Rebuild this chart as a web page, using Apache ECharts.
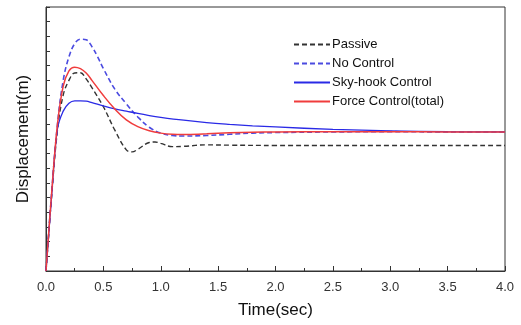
<!DOCTYPE html>
<html>
<head>
<meta charset="utf-8">
<script src="https://cdn.jsdelivr.net/npm/echarts@6/dist/echarts.min.js"></script>
<style>html,body{margin:0;padding:0;background:#fff;}#c{width:521px;height:325px;}</style>
</head>
<body>
<div id="c"></div>
<script>
var seriesNames = ['Passive', 'No Control', 'Sky-hook Control', 'Force Control(total)'];
var xTicks = [0, 0.5, 1.0, 1.5, 2.0, 2.5, 3.0, 3.5, 4.0];

var tPassive = [0, 0.05, 0.1, 0.15, 0.2, 0.25, 0.3, 0.35, 0.4, 0.5, 0.6, 0.7, 0.75, 0.8, 0.9, 0.95, 1.0, 1.1, 1.2, 1.4, 1.6, 2.0, 2.5, 3.0, 3.5, 4.0];
var passive  = [0, 2.6, 4.8, 6.0, 6.5, 6.75, 6.76, 6.55, 6.25, 5.6, 4.8, 4.13, 4.06, 4.15, 4.38, 4.4, 4.35, 4.24, 4.25, 4.3, 4.29, 4.28, 4.28, 4.28, 4.28, 4.28];

var tNoCtrl = [0, 0.05, 0.1, 0.15, 0.2, 0.25, 0.3, 0.35, 0.4, 0.45, 0.5, 0.6, 0.7, 0.8, 0.9, 1.0, 1.1, 1.2, 1.4, 1.6, 1.8, 2.0, 2.5, 3.0, 3.5, 4.0];
var noCtrl  = [0, 2.7, 5.0, 6.5, 7.3, 7.75, 7.9, 7.88, 7.65, 7.3, 6.9, 6.2, 5.7, 5.25, 4.9, 4.7, 4.62, 4.6, 4.62, 4.66, 4.7, 4.72, 4.74, 4.75, 4.74, 4.74];

var tSky = [0, 0.05, 0.1, 0.15, 0.2, 0.25, 0.3, 0.35, 0.4, 0.5, 0.6, 0.7, 0.8, 0.9, 1.0, 1.2, 1.4, 1.6, 1.8, 2.0, 2.5, 3.0, 3.5, 4.0];
var sky  = [0, 2.6, 4.85, 5.45, 5.72, 5.8, 5.8, 5.79, 5.74, 5.63, 5.53, 5.45, 5.37, 5.3, 5.24, 5.14, 5.06, 5.0, 4.95, 4.91, 4.83, 4.78, 4.75, 4.74];

var tForce = [0, 0.05, 0.1, 0.15, 0.2, 0.25, 0.3, 0.35, 0.4, 0.5, 0.6, 0.7, 0.8, 0.9, 1.0, 1.1, 1.2, 1.4, 1.6, 1.8, 2.0, 2.5, 3.0, 3.5, 4.0];
var force  = [0, 2.7, 5.0, 6.3, 6.82, 6.95, 6.9, 6.75, 6.5, 5.98, 5.52, 5.15, 4.92, 4.78, 4.7, 4.66, 4.65, 4.68, 4.71, 4.73, 4.74, 4.75, 4.75, 4.74, 4.74];

function pairs(t, v) { return t.map(function (x, i) { return [x, v[i]]; }); }

var FONT = '"Liberation Sans", Arial, sans-serif';
var chart = echarts.init(document.getElementById('c'), null, {renderer: 'canvas'});
chart.setOption({
  animation: false,
  backgroundColor: '#fff',
  grid: {left: 46, right: 16, top: 7, bottom: 54, show: true, borderColor: '#333', borderWidth: 1, backgroundColor: 'transparent'},
  legend: {
    orient: 'vertical', left: 288, top: 33, itemWidth: 36, itemHeight: 12, itemGap: 6,
    itemStyle: {opacity: 0},
    textStyle: {fontFamily: FONT, fontSize: 13, color: '#111', padding: [0, 0, 0, -3]},
    data: seriesNames
  },
  xAxis: {
    type: 'value', min: 0, max: 4, interval: 0.5,
    name: 'Time(sec)', nameLocation: 'middle', nameGap: 31,
    nameTextStyle: {fontFamily: FONT, fontSize: 17, color: '#111'},
    axisLine: {lineStyle: {color: '#333'}},
    axisTick: {inside: true, length: 5, lineStyle: {color: '#333'}},
    minorTick: {show: true, splitNumber: 2, length: 3, lineStyle: {color: '#333'}},
    splitLine: {show: false},
    axisLabel: {fontFamily: FONT, fontSize: 13, color: '#333', margin: 10,
      formatter: function (v) { return xTicks.indexOf(v) >= 0 ? v.toFixed(1) : ''; }}
  },
  yAxis: {
    type: 'value', min: 0, max: 9, interval: 1,
    name: 'Displacement(m)', nameLocation: 'middle', nameGap: 14,
    nameTextStyle: {fontFamily: FONT, fontSize: 17, color: '#111'},
    axisLine: {lineStyle: {color: '#333'}},
    axisTick: {inside: true, length: 4, lineStyle: {color: '#333'}},
    minorTick: {show: true, splitNumber: 2, length: 4, lineStyle: {color: '#333'}},
    splitLine: {show: false},
    axisLabel: {show: false}
  },
  series: [
    {name: seriesNames[0], type: 'line', smooth: 0.4, showSymbol: false, symbol: 'none', data: pairs(tPassive, passive),
      lineStyle: {color: '#333', width: 1.4, type: [5, 3]}, itemStyle: {color: '#333'}},
    {name: seriesNames[1], type: 'line', smooth: 0.4, showSymbol: false, symbol: 'none', data: pairs(tNoCtrl, noCtrl),
      lineStyle: {color: '#4b4be0', width: 1.6, type: [5, 3]}, itemStyle: {color: '#4b4be0'}},
    {name: seriesNames[2], type: 'line', smooth: 0.4, showSymbol: false, symbol: 'none', data: pairs(tSky, sky),
      lineStyle: {color: '#2a2ae6', width: 1.3}, itemStyle: {color: '#2a2ae6'}},
    {name: seriesNames[3], type: 'line', smooth: 0.4, showSymbol: false, symbol: 'none', data: pairs(tForce, force),
      lineStyle: {color: '#f03c3c', width: 1.5}, itemStyle: {color: '#f03c3c'}}
  ]
});
</script>
</body>
</html>
